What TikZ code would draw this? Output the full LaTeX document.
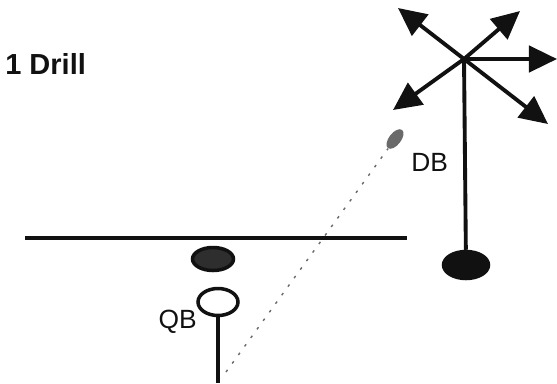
\documentclass[tikz,border=0pt]{standalone}
\usepackage{fontspec}
\setmainfont{Liberation Sans}
\usepackage{tikz}
\usetikzlibrary{positioning,arrows.meta,shapes.geometric}
\definecolor{ink}{HTML}{111111}
\definecolor{stip}{HTML}{2E2E2E}
\definecolor{pass}{HTML}{6A6A6A}
\tikzset{
  arr/.style={-{Triangle[length=16pt,width=15pt]}, line width=2.2pt, color=ink},
  stem/.style={line width=2.2pt, color=ink},
  lineofsc/.style={line width=1.8pt, color=ink},
  plyr/.style={ellipse, draw=ink, line width=2pt, inner sep=0pt},
  lbl/.style={font=\fontsize{15}{17}\selectfont, text=ink, inner sep=0pt},
  passln/.style={dash pattern=on 1.5pt off 4.5pt, line width=0.8pt, color=pass},
}
\begin{document}
\begin{tikzpicture}[x=0.02cm, y=-0.02cm]
  \useasboundingbox (0,0) rectangle (557,383);
  \node[font=\fontsize{16.5}{18}\selectfont\bfseries, text=ink, inner sep=0pt, anchor=base west]
        (title) at (5,74) {1 Drill};
  % line of scrimmage and center
  \coordinate (losL) at (25,238);
  \coordinate (losR) at (407,238);
  \draw[lineofsc] (losL) -- (losR);
  \node[plyr, fill=stip, minimum width=0.82cm, minimum height=0.46cm] (ctr) at (213,259) {};
  % quarterback
  \node[plyr, fill=white, minimum width=0.8cm, minimum height=0.54cm] (qb) at (218,302) {};
  \coordinate (qbfoot) at (218,383);
  \draw[stem] (qb) -- (qbfoot);
  \node[lbl, anchor=east] (qblbl) at (197,322) {QB};
  % defensive back and his breaks
  \node[plyr, fill=ink, minimum width=0.9cm, minimum height=0.54cm] (db) at (466,265) {};
  \coordinate (hub) at (464,59);
  \draw[stem] (db) -- (hub);
  \node[lbl, anchor=west] (dblbl) at (411,162) {DB};
  \foreach \tx/\ty in {398/8, 520/11, 557/59, 393/110, 548/124}
    \draw[arr] (hub) -- (\tx,\ty);
  % the pass
  \node[ellipse, fill=pass, minimum width=0.46cm, minimum height=0.24cm, inner sep=0pt, rotate=52]
        (ball) at (395,139) {};
  \coordinate (rel) at (226,372);
  \draw[passln] (rel) -- (ball);
\end{tikzpicture}
\end{document}
